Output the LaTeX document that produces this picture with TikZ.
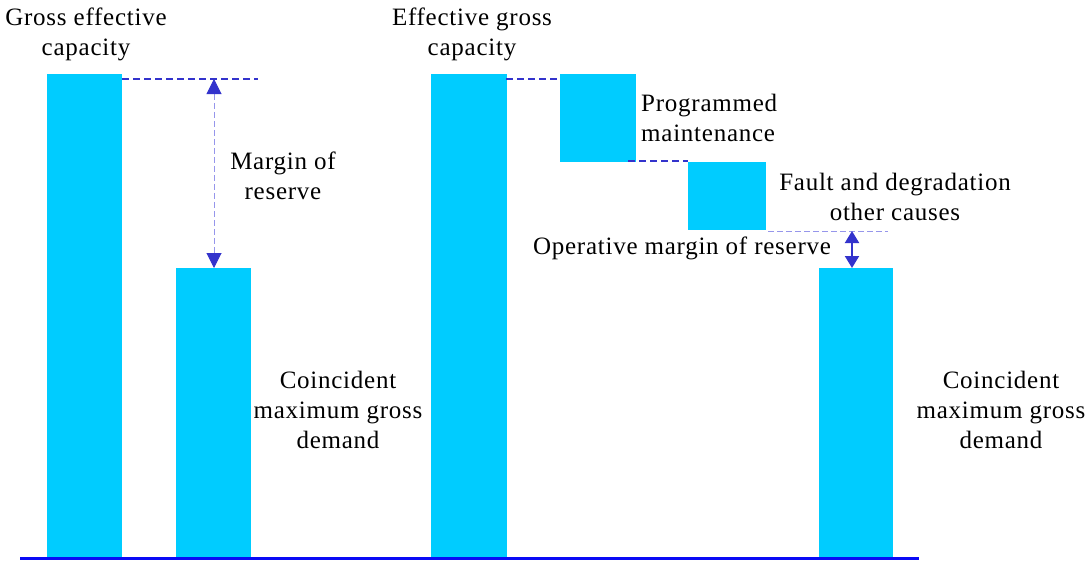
\documentclass[tikz,border=0pt]{standalone}
\usepackage{fontspec}
\setmainfont{Liberation Serif}[LetterSpace=3]
\usetikzlibrary{arrows.meta}
\definecolor{barcyan}{RGB}{0,204,255}
\definecolor{lineblue}{RGB}{51,51,204}
\definecolor{paleblue}{RGB}{150,150,235}
\definecolor{axisblue}{RGB}{10,10,245}
\begin{document}
\begin{tikzpicture}[x=1pt,y=-1pt,
  bar/.style={fill=barcyan, draw=none, inner sep=0pt, outer sep=0pt, anchor=north west},
  lbl/.style={font=\fontsize{25}{30}\selectfont, align=center, inner sep=0pt},
  dashlink/.style={draw=lineblue, line width=2.8pt, dash pattern=on 7pt off 4pt},
  palelink/.style={draw=paleblue, line width=1pt, dash pattern=on 6pt off 3pt},
  bigarrows/.style={{Triangle[width=15pt,length=15pt,color=lineblue]}-{Triangle[width=15pt,length=15pt,color=lineblue]}},
  smallarrows/.style={{Triangle[width=14pt,length=12pt]}-{Triangle[width=14pt,length=12pt]}},
  axis/.style={draw=axisblue, line width=3pt}]
\useasboundingbox (0,0) rectangle (1088,563);

% bars and blocks
\node[bar, minimum width=75pt, minimum height=483pt] (gecbar) at (47,74) {};
\node[bar, minimum width=75pt, minimum height=289pt] (dembarA) at (176,268) {};
\node[bar, minimum width=76pt, minimum height=483pt] (egcbar) at (431,74) {};
\node[bar, minimum width=76pt, minimum height=88pt] (pmbox) at (560,74) {};
\node[bar, minimum width=78pt, minimum height=68pt] (fdbox) at (688,162) {};
\node[bar, minimum width=74pt, minimum height=289pt] (dembarB) at (819,268) {};

% ground line
\coordinate (axL) at (20,558);
\coordinate (axR) at (919,558);
\draw[axis] (axL) -- (axR);

% labels
\node[lbl] (tgec) at (86,34) {Gross effective\\capacity};
\node[lbl] (tmor) at (283,176) {Margin of\\reserve};
\node[lbl] (tegc) at (472,34) {Effective gross\\capacity};
\node[lbl, align=left, anchor=west] (tpm) at (641,118) {Programmed\\maintenance};
\node[lbl] (tfd) at (895,197) {Fault and degradation\\other causes};
\node[lbl] (tomr) at (682,248) {Operative margin of reserve};
\node[lbl] (tdemA) at (338,410) {Coincident\\maximum gross\\demand};
\node[lbl] (tdemB) at (1001,410) {Coincident\\maximum gross\\demand};

% reference levels
\coordinate (gecR) at (122,79);
\coordinate (gecEnd) at (258,79);
\draw[dashlink] (gecR) -- (gecEnd);
\coordinate (mTop) at (214,79);
\draw[palelink, bigarrows] (mTop) -- (mTop |- dembarA.north);

\coordinate (egcR) at (506,79);
\draw[dashlink] (egcR) -- (egcR -| pmbox.west);
\coordinate (pmB) at (628,161);
\draw[dashlink] (pmB) -- (pmB -| fdbox.west);

\coordinate (fdR) at (768,231);
\coordinate (fdEnd) at (888,231);
\draw[palelink] (fdR) -- (fdEnd);
\coordinate (omTop) at (852,231);
\draw[draw=lineblue, line width=2pt, smallarrows] (omTop) -- (omTop |- dembarB.north);
\end{tikzpicture}
\end{document}
